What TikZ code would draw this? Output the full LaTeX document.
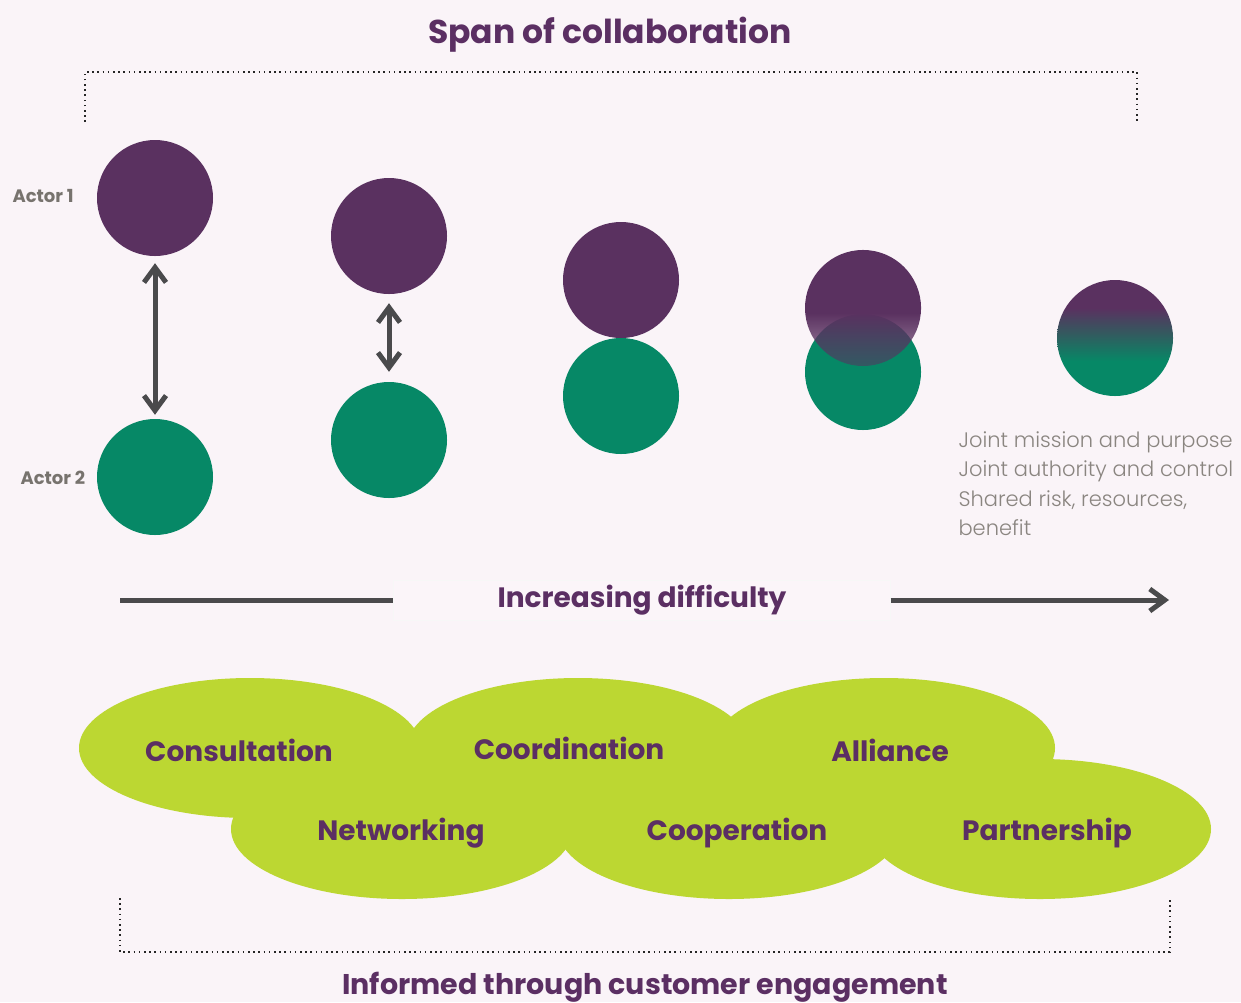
\documentclass[tikz,border=0pt]{standalone}
\usepackage{fontspec}
\setmainfont{Poppins}
\newfontfamily\lightfont{Poppins Light}
\usetikzlibrary{arrows.meta,fadings,shapes.geometric}

\definecolor{bgpink}{HTML}{FAF4F8}
\definecolor{plum}{HTML}{5A3160}
\definecolor{plumtext}{HTML}{5B2F63}
\definecolor{actorgreen}{HTML}{068866}
\definecolor{mergemid}{HTML}{335A5F}
\definecolor{cloudlime}{HTML}{BCD732}
\definecolor{arrowgray}{HTML}{4A4A4C}
\definecolor{labelgray}{HTML}{77736E}
\definecolor{notegray}{HTML}{8A8580}

\pgfdeclareverticalshading{plumfadeshade}{100bp}{%
  color(0bp)=(pgftransparent!100); color(8bp)=(pgftransparent!85);
  color(26bp)=(pgftransparent!45); color(48bp)=(pgftransparent!0);
  color(100bp)=(pgftransparent!0)}
\pgfdeclarefading{plumfade}{\pgfuseshading{plumfadeshade}}

\pgfdeclareverticalshading{mergeshade}{100bp}{%
  color(0bp)=(actorgreen); color(40bp)=(actorgreen);
  color(52bp)=(mergemid); color(63bp)=(plum); color(100bp)=(plum)}

\begin{document}
\begin{tikzpicture}[
  x=1pt, y=-1pt,
  actor/.style={circle, inner sep=0pt, minimum size=116pt},
  actorone/.style={actor, fill=plum},
  actortwo/.style={actor, fill=actorgreen},
  cloud/.style={ellipse, fill=cloudlime, inner sep=0pt,
                minimum width=342pt, minimum height=140pt},
  cloudtext/.style={font=\bfseries\fontsize{28}{33}\selectfont, text=plumtext},
  heading/.style={font=\bfseries\fontsize{33}{40}\selectfont, text=plumtext},
  actorlabel/.style={font=\bfseries\fontsize{18}{22}\selectfont, text=labelgray, anchor=west},
  span/.style={dash pattern=on 1.6pt off 3.6pt, line width=1.6pt, black!85},
  link/.style={line width=5pt, arrowgray},
  barb/.tip={Straight Barb[length=15pt, width=22pt]}
]

\useasboundingbox[fill=bgpink] (0,0) rectangle (1241,1002);

% ---- Span brackets ----
\node[heading] (spantitle) at (610,35) {Span of collaboration};
\coordinate (topl) at (85,122);
\coordinate (topr) at (1137,122);
\draw[span] (topl) -- (85,72) -- (1137,72) -- (topr);

\coordinate (botl) at (120,898);
\coordinate (botr) at (1170,898);
\draw[span] (botl) -- (120,952) -- (1170,952) -- (botr);
\node[heading, font=\bfseries\fontsize{28.5}{34}\selectfont, anchor=base] (informed) at (645,994)
  {Informed through customer engagement};

% ---- Actors ----
\node[actorlabel] (lblone) at (9,196) {Actor 1};
\node[actorlabel] (lbltwo) at (17,478) {Actor 2};

\node[actorone] (a1) at (155,198) {};
\node[actortwo] (b1) at (155,477) {};
\node[actorone] (a2) at (389,236) {};
\node[actortwo] (b2) at (389,440) {};
\node[actorone] (a3) at (621,280) {};
\node[actortwo] (b3) at (621,396) {};
\node[actortwo] (b4) at (863,372) {};
\node[actorone, path fading=plumfade] (a4) at (863,308) {};
\node[actor, shade, shading=mergeshade] (ab5) at (1115,338) {};

\draw[link, barb-barb, shorten <=7pt, shorten >=4pt] (a1.south) -- (b1.north);
\draw[link, barb-barb, shorten <=9pt, shorten >=10pt] (a2.south) -- (b2.north);

\node[anchor=north west, align=left, text=notegray,
      font=\lightfont\fontsize{21}{29.5}\selectfont] (note) at (955,428)
  {Joint mission and purpose\\Joint authority and control\\Shared risk, resources,\\benefit};

% ---- Difficulty axis ----
\node[heading, font=\bfseries\fontsize{28}{33}\selectfont, fill=white!12!bgpink,
      draw=black!3, minimum width=497pt, minimum height=40pt] (difficulty) at (642,600)
  {Increasing difficulty};
\coordinate (axisstart) at (120,600);
\coordinate (axisend) at (1169,600);
\draw[link] (axisstart) -- (difficulty.west);
\draw[link, -barb] (difficulty.east) -- (axisend);

% ---- Collaboration clouds ----
\node[cloud] (cons) at (250,748) {};
\node[cloud] (coord) at (578,748) {};
\node[cloud] (alli) at (884,748) {};
\node[cloud] (netw) at (402,829) {};
\node[cloud] (coop) at (729,829) {};
\node[cloud] (partn) at (1040,829) {};

\node[cloudtext] at ([xshift=-11pt,yshift=-2pt]cons.center) {Consultation};
\node[cloudtext] at ([xshift=-9pt]coord.center) {Coordination};
\node[cloudtext] at ([xshift=6pt,yshift=-2pt]alli.center) {Alliance};
\node[cloudtext] at ([xshift=-1pt,yshift=-4pt]netw.center) {Networking};
\node[cloudtext] at ([xshift=8pt,yshift=-4pt]coop.center) {Cooperation};
\node[cloudtext] at ([xshift=7pt,yshift=-4pt]partn.center) {Partnership};

\end{tikzpicture}
\end{document}
